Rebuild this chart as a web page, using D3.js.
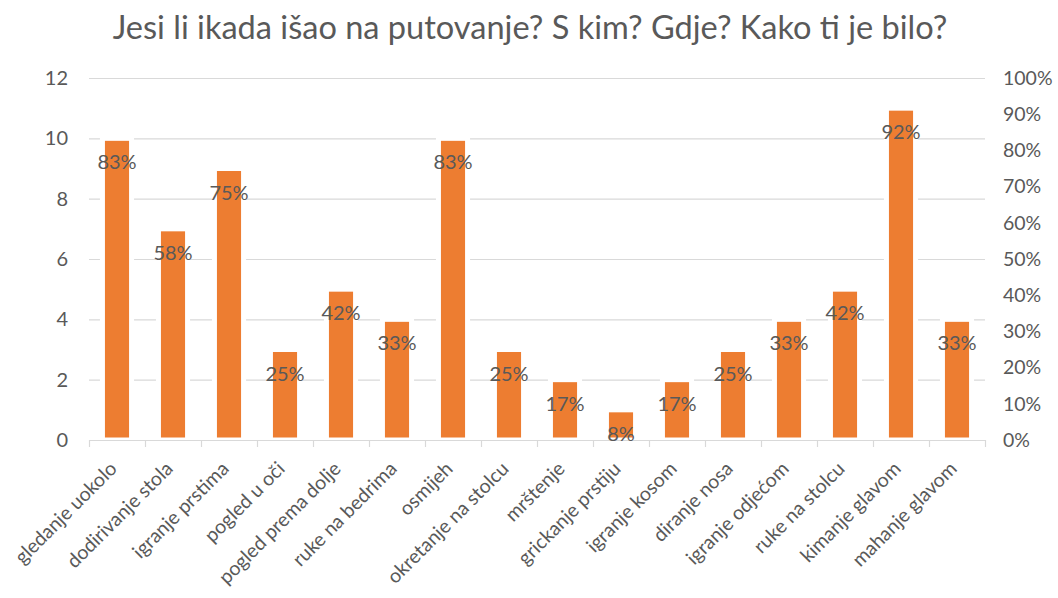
<!DOCTYPE html>
<html>
<head>
<meta charset="utf-8">
<script src="https://cdn.jsdelivr.net/npm/d3@7"></script>
<style>
  html, body { margin: 0; padding: 0; background: #fff; }
  svg { display: block; }
  text { font-family: Lato, "Open Sans", sans-serif; fill: #595959; }
</style>
</head>
<body>
<svg id="chart" width="1058" height="598"></svg>
<script>
const title = "Jesi li ikada išao na putovanje? S kim? Gdje? Kako ti je bilo?";
const categories = ["gledanje uokolo", "dodirivanje stola", "igranje prstima", "pogled u oči",
  "pogled prema dolje", "ruke na bedrima", "osmijeh", "okretanje na stolcu", "mrštenje",
  "grickanje prstiju", "igranje kosom", "diranje nosa", "igranje odjećom", "ruke na stolcu",
  "kimanje glavom", "mahanje glavom"];
const counts = [10, 7, 9, 3, 5, 4, 10, 3, 2, 1, 2, 3, 4, 5, 11, 4];
const percents = [83, 58, 75, 25, 42, 33, 83, 25, 17, 8, 17, 25, 33, 42, 92, 33];
const leftTicks = [0, 2, 4, 6, 8, 10, 12];
const rightTicks = [0, 10, 20, 30, 40, 50, 60, 70, 80, 90, 100];

const svg = d3.select("#chart");
const W = 1058, H = 598;
const m = { left: 89, right: 1058 - 985, top: 78, bottom: 598 - 440 };
const iw = W - m.left - m.right, ih = H - m.top - m.bottom;

const x = d3.scaleBand().domain(categories).range([m.left, m.left + iw]).paddingInner(0.48).paddingOuter(0.24);
const y = d3.scaleLinear().domain([0, 12]).range([m.top + ih, m.top]);
const y2 = d3.scaleLinear().domain([0, 100]).range([m.top + ih, m.top]);

// title
const t = svg.append("text").attr("x", 530).attr("y", 39).attr("text-anchor", "middle")
  .style("font-size", "30px").text(title);
const tw = t.node().getComputedTextLength();
t.style("font-size", (30 * 835 / tw) + "px");

// gridlines
svg.append("g").selectAll("line").data(leftTicks.filter(d => d > 0)).join("line")
  .attr("x1", m.left).attr("x2", m.left + iw)
  .attr("y1", d => y(d) + 0.5).attr("y2", d => y(d) + 0.5)
  .attr("stroke", "#d9d9d9").attr("stroke-width", 1.2);

// bars
svg.append("g").selectAll("rect").data(categories).join("rect")
  .attr("x", d => x(d)).attr("width", x.bandwidth())
  .attr("y", (d, i) => y(counts[i])).attr("height", (d, i) => y(0) - y(counts[i]))
  .attr("fill", "#ed7d31").attr("stroke", "#fff").attr("stroke-width", 5);

// x axis line + ticks
const axisG = svg.append("g");
axisG.append("line").attr("x1", m.left).attr("x2", m.left + iw)
  .attr("y1", y(0) + 0.5).attr("y2", y(0) + 0.5).attr("stroke", "#d9d9d9").attr("stroke-width", 1.2);
const bounds = d3.range(categories.length + 1).map(i => m.left + i * iw / categories.length);
axisG.selectAll("line.tk").data(bounds).join("line").attr("class", "tk")
  .attr("x1", d => d + 0.5).attr("x2", d => d + 0.5)
  .attr("y1", y(0)).attr("y2", y(0) + 7).attr("stroke", "#d9d9d9").attr("stroke-width", 1.2);

// left axis labels
svg.append("g").selectAll("text").data(leftTicks).join("text")
  .attr("x", 68).attr("y", d => y(d)).attr("dy", "0.35em").attr("text-anchor", "end")
  .style("font-size", "20px").text(d => d);

// right axis labels
svg.append("g").selectAll("text").data(rightTicks).join("text")
  .attr("x", 1003).attr("y", d => y2(d)).attr("dy", "0.35em").attr("text-anchor", "start")
  .style("font-size", "19.5px").text(d => d + "%");

// category labels
svg.append("g").selectAll("text").data(categories).join("text")
  .attr("text-anchor", "end")
  .attr("transform", d => `translate(${x(d) + x.bandwidth() / 2 + 1},${y(0) + 30}) rotate(-45)`)
  .style("font-size", "19.5px").text(d => d);

// data labels (percent), placed just inside the bar top
svg.append("g").selectAll("text").data(categories).join("text")
  .attr("x", d => x(d) + x.bandwidth() / 2)
  .attr("y", (d, i) => y(counts[i]) + 24)
  .attr("dy", "0.35em").attr("text-anchor", "middle")
  .style("font-size", "20px").text((d, i) => percents[i] + "%");
</script>
</body>
</html>
